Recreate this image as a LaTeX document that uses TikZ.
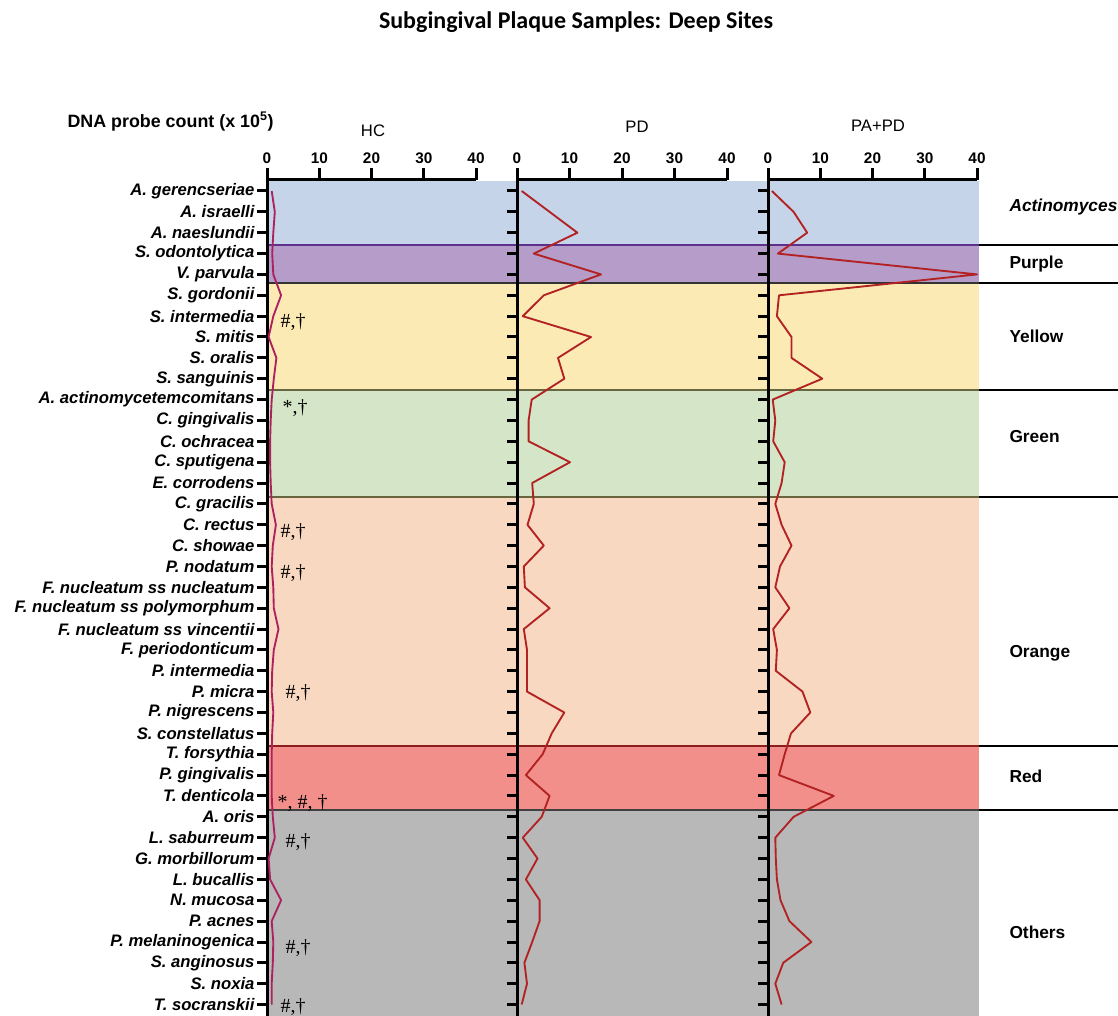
\documentclass[tikz,border=0pt]{standalone}
\usepackage{fontspec}
\setmainfont{Liberation Sans}
\newfontfamily\titlefont{Carlito}
\newfontfamily\markfont{Liberation Serif}

\definecolor{bandblue}{RGB}{198,212,234}
\definecolor{bandpurple}{RGB}{182,156,201}
\definecolor{bandyellow}{RGB}{252,234,181}
\definecolor{bandgreen}{RGB}{212,230,199}
\definecolor{bandorange}{RGB}{248,216,192}
\definecolor{bandred}{RGB}{242,143,139}
\definecolor{bandgray}{RGB}{185,184,185}
\definecolor{edgepurple}{RGB}{92,48,140}
\definecolor{edgeolive}{RGB}{104,102,62}
\definecolor{edgered}{RGB}{140,30,30}
\definecolor{hcmagenta}{RGB}{172,34,96}
\definecolor{pdred}{RGB}{178,34,34}

\tikzset{every picture/.style={line width=0.75pt}}
\tikzset{
  species/.style={anchor=east,inner sep=0pt,font=\fontsize{12.5}{14}\selectfont\bfseries\itshape},
  ticknum/.style={inner sep=0pt,font=\fontsize{11.5}{13}\selectfont\bfseries},
  axtitle/.style={inner sep=0pt,font=\fontsize{12.5}{14}\selectfont},
  grouplbl/.style={anchor=west,inner sep=0pt,font=\fontsize{13}{15}\selectfont\bfseries},
  sigmark/.style={anchor=west,inner sep=0pt,font=\markfont\fontsize{15}{17}\selectfont},
  axisline/.style={line width=2.25pt},
  rowtick/.style={line width=2.25pt},
  bandedge/.style={line width=1.1pt},
  hcline/.style={color=hcmagenta,line width=1.4pt,line join=round},
  pdline/.style={color=pdred,line width=1.4pt,line join=round}
}

\begin{document}
\begin{tikzpicture}[x=0.75pt,y=0.75pt,yscale=-1,xscale=1]
\useasboundingbox (0,0) rectangle (1118,1016);

%Shape: Rectangle (colour bands)
\fill [bandblue] (267,181) rectangle (979,245);
\fill [bandpurple] (267,245) rectangle (979,283);
\fill [bandyellow] (267,283) rectangle (979,390);
\fill [bandgreen] (267,390) rectangle (979,497);
\fill [bandorange] (267,497) rectangle (979,746);
\fill [bandred] (267,746) rectangle (979,810);
\fill [bandgray] (267,810) rectangle (979,1016);

%Straight Lines (band edges)
\draw [bandedge, edgepurple] (267,245) -- (979,245);
\draw [bandedge, black!80] (267,283) -- (979,283);
\draw [bandedge, edgeolive] (267,390) -- (979,390);
\draw [bandedge, edgeolive] (267,497) -- (979,497);
\draw [bandedge, edgered] (267,746) -- (979,746);
\draw [bandedge, black!75] (267,810) -- (979,810);
\draw [bandedge] (979,245) -- (1118,245) (979,283) -- (1118,283) (979,390) -- (1118,390) (979,497) -- (1118,497) (979,746) -- (1118,746) (979,810) -- (1118,810);

%Shape: Axis 2D (HC, PD, PA+PD)
\draw [axisline] (267,1016) -- (267,168) (267,180) -- (476,180) (319.3,168) -- (319.3,180) (371.5,168) -- (371.5,180) (423.8,168) -- (423.8,180) (476,168) -- (476,180);
\draw [axisline] (517,1016) -- (517,168) (517,180) -- (727,180) (569.5,168) -- (569.5,180) (622,168) -- (622,180) (674.5,168) -- (674.5,180) (727,168) -- (727,180);
\draw [axisline] (768,1016) -- (768,168) (768,180) -- (977,180) (820.3,168) -- (820.3,180) (872.5,168) -- (872.5,180) (924.8,168) -- (924.8,180) (977,168) -- (977,180);
\foreach \y in {191.0,211.9,232.7,253.6,274.4,295.3,316.2,337.0,357.9,378.7,399.6,420.5,441.3,462.2,483.0,503.9,524.8,545.6,566.5,587.3,608.2,629.1,649.9,670.8,691.6,712.5,733.4,754.2,775.1,795.9,816.8,837.7,858.5,879.4,900.2,921.1,942.0,962.8,983.7,1004.5}
  \draw [rowtick] (257,\y) -- (267,\y) (507,\y) -- (517,\y) (758,\y) -- (768,\y);

%Curve Lines (HC)
\draw [hcline] (271.7,191.0) -- (274.8,211.9) -- (273.3,232.7) -- (272.2,253.6) -- (273.3,274.4) -- (281.1,295.3) -- (273.3,316.2) -- (268.6,337.0) -- (276.4,357.9) -- (273.8,378.7) -- (271.7,399.6) -- (270.7,420.5) -- (270.1,441.3) -- (270.1,462.2) -- (270.7,483.0) -- (271.7,503.9) -- (275.9,524.8) -- (272.8,545.6) -- (271.7,566.5) -- (273.3,587.3) -- (273.8,608.2) -- (278.5,629.1) -- (273.8,649.9) -- (272.2,670.8) -- (271.7,691.6) -- (273.3,712.5) -- (272.2,733.4) -- (271.7,754.2) -- (271.7,775.1) -- (271.7,795.9) -- (272.8,816.8) -- (274.8,837.7) -- (268.6,858.5) -- (270.1,879.4) -- (281.1,900.2) -- (271.7,921.1) -- (273.3,942.0) -- (272.8,962.8) -- (271.7,983.7) -- (271.7,1004.5);
%Curve Lines (PD)
\draw [pdline] (521.7,191.0) -- (549.6,211.9) -- (577.4,232.7) -- (533.8,253.6) -- (601.0,274.4) -- (543.8,295.3) -- (522.8,316.2) -- (591.0,337.0) -- (558.0,357.9) -- (564.3,378.7) -- (531.7,399.6) -- (528.6,420.5) -- (528.6,441.3) -- (570.0,462.2) -- (532.2,483.0) -- (533.8,503.9) -- (527.5,524.8) -- (543.8,545.6) -- (523.8,566.5) -- (524.9,587.3) -- (549.6,608.2) -- (523.8,629.1) -- (527.0,649.9) -- (527.0,670.8) -- (527.0,691.6) -- (564.3,712.5) -- (551.7,733.4) -- (542.7,754.2) -- (525.9,775.1) -- (549.6,795.9) -- (541.7,816.8) -- (522.8,837.7) -- (537.5,858.5) -- (525.9,879.4) -- (539.6,900.2) -- (539.6,921.1) -- (532.2,942.0) -- (524.4,962.8) -- (527.0,983.7) -- (521.7,1004.5);
%Curve Lines (PA+PD)
\draw [pdline] (771.9,191.0) -- (793.6,211.9) -- (807.2,232.7) -- (777.9,253.6) -- (977.0,274.4) -- (779.0,295.3) -- (776.9,316.2) -- (791.5,337.0) -- (791.5,357.9) -- (822.3,378.7) -- (772.7,399.6) -- (775.3,420.5) -- (773.2,441.3) -- (784.7,462.2) -- (781.6,483.0) -- (775.3,503.9) -- (781.6,524.8) -- (791.5,545.6) -- (780.0,566.5) -- (775.3,587.3) -- (789.4,608.2) -- (773.2,629.1) -- (776.9,649.9) -- (775.8,670.8) -- (802.5,691.6) -- (810.3,712.5) -- (791.0,733.4) -- (784.7,754.2) -- (779.0,775.1) -- (833.8,795.9) -- (793.6,816.8) -- (775.3,837.7) -- (775.8,858.5) -- (776.9,879.4) -- (780.5,900.2) -- (789.4,921.1) -- (811.4,942.0) -- (783.2,962.8) -- (775.3,983.7) -- (781.6,1004.5);

% Text Node
\draw (576,22) node [font=\titlefont\fontsize{18}{20}\selectfont\bfseries] (title) {Subgingival Plaque Samples: Deep Sites};
% Text Node
\draw (67,122) node [anchor=west,inner sep=0pt,font=\fontsize{13.4}{15}\selectfont\bfseries] (ylabel) {DNA probe count (x 10\textsuperscript{5})};
% Text Node
\draw (373,131) node [axtitle] (hc) {HC};
% Text Node
\draw (637,127) node [axtitle] (pd) {PD};
% Text Node
\draw (878,126) node [axtitle] (papd) {PA+PD};

% Text Node
\draw (267,158) node [ticknum] (hc0) {0};
\draw (319.3,158) node [ticknum] (hc10) {10};
\draw (371.5,158) node [ticknum] (hc20) {20};
\draw (423.8,158) node [ticknum] (hc30) {30};
\draw (476,158) node [ticknum] (hc40) {40};
% Text Node
\draw (517,158) node [ticknum] (pd0) {0};
\draw (569.5,158) node [ticknum] (pd10) {10};
\draw (622,158) node [ticknum] (pd20) {20};
\draw (674.5,158) node [ticknum] (pd30) {30};
\draw (727,158) node [ticknum] (pd40) {40};
% Text Node
\draw (768,158) node [ticknum] (papd0) {0};
\draw (820.3,158) node [ticknum] (papd10) {10};
\draw (872.5,158) node [ticknum] (papd20) {20};
\draw (924.8,158) node [ticknum] (papd30) {30};
\draw (977,158) node [ticknum] (papd40) {40};

% Text Node
\draw (255,191.0) node [species] (agerencseriae) {A. gerencseriae};
\draw (255,211.9) node [species] (aisraelli) {A. israelli};
\draw (255,232.7) node [species] (anaeslundii) {A. naeslundii};
\draw (255,253.6) node [species] (sodontolytica) {S. odontolytica};
\draw (255,274.4) node [species] (vparvula) {V. parvula};
\draw (255,295.3) node [species] (sgordonii) {S. gordonii};
\draw (255,316.2) node [species] (sintermedia) {S. intermedia};
\draw (255,337.0) node [species] (smitis) {S. mitis};
\draw (255,357.9) node [species] (soralis) {S. oralis};
\draw (255,378.7) node [species] (ssanguinis) {S. sanguinis};
\draw (255,399.6) node [species] (aactino) {A. actinomycetemcomitans};
\draw (255,420.5) node [species] (cgingivalis) {C. gingivalis};
\draw (255,441.3) node [species] (cochracea) {C. ochracea};
\draw (255,462.2) node [species] (csputigena) {C. sputigena};
\draw (255,483.0) node [species] (ecorrodens) {E. corrodens};
\draw (255,503.9) node [species] (cgracilis) {C. gracilis};
\draw (255,524.8) node [species] (crectus) {C. rectus};
\draw (255,545.6) node [species] (cshowae) {C. showae};
\draw (255,566.5) node [species] (pnodatum) {P. nodatum};
\draw (255,587.3) node [species] (fnnucleatum) {F. nucleatum ss nucleatum};
\draw (255,608.2) node [species] (fnpolymorphum) {F. nucleatum ss polymorphum};
\draw (255,629.1) node [species] (fnvincentii) {F. nucleatum ss vincentii};
\draw (255,649.9) node [species] (fperiodonticum) {F. periodonticum};
\draw (255,670.8) node [species] (pintermedia) {P. intermedia};
\draw (255,691.6) node [species] (pmicra) {P. micra};
\draw (255,712.5) node [species] (pnigrescens) {P. nigrescens};
\draw (255,733.4) node [species] (sconstellatus) {S. constellatus};
\draw (255,754.2) node [species] (tforsythia) {T. forsythia};
\draw (255,775.1) node [species] (pgingivalis) {P. gingivalis};
\draw (255,795.9) node [species] (tdenticola) {T. denticola};
\draw (255,816.8) node [species] (aoris) {A. oris};
\draw (255,837.7) node [species] (lsaburreum) {L. saburreum};
\draw (255,858.5) node [species] (gmorbillorum) {G. morbillorum};
\draw (255,879.4) node [species] (lbucallis) {L. bucallis};
\draw (255,900.2) node [species] (nmucosa) {N. mucosa};
\draw (255,921.1) node [species] (pacnes) {P. acnes};
\draw (255,942.0) node [species] (pmelaninogenica) {P. melaninogenica};
\draw (255,962.8) node [species] (sanginosus) {S. anginosus};
\draw (255,983.7) node [species] (snoxia) {S. noxia};
\draw (255,1004.5) node [species] (tsocranskii) {T. socranskii};

% Text Node
\draw (280,322) node [sigmark] (mark1) {\#,†};
\draw (282,408) node [sigmark] (mark2) {*,†};
\draw (280,532) node [sigmark] (mark3) {\#,†};
\draw (280,573) node [sigmark] (mark4) {\#,†};
\draw (285,693) node [sigmark] (mark5) {\#,†};
\draw (277,803) node [sigmark] (mark6) {*, \#, †};
\draw (285,842) node [sigmark] (mark7) {\#,†};
\draw (285,948) node [sigmark] (mark8) {\#,†};
\draw (280,1007) node [sigmark] (mark9) {\#,†};

% Text Node
\draw (1009,207) node [grouplbl,font=\fontsize{13}{15}\selectfont\bfseries\itshape] (actinomyces) {Actinomyces};
\draw (1009,264) node [grouplbl] (purple) {Purple};
\draw (1009,336) node [grouplbl] (yellow) {Yellow};
\draw (1009,437) node [grouplbl] (green) {Green};
\draw (1009,653) node [grouplbl] (orange) {Orange};
\draw (1009,776) node [grouplbl] (red) {Red};
\draw (1009,932) node [grouplbl] (others) {Others};

\end{tikzpicture}
\end{document}
